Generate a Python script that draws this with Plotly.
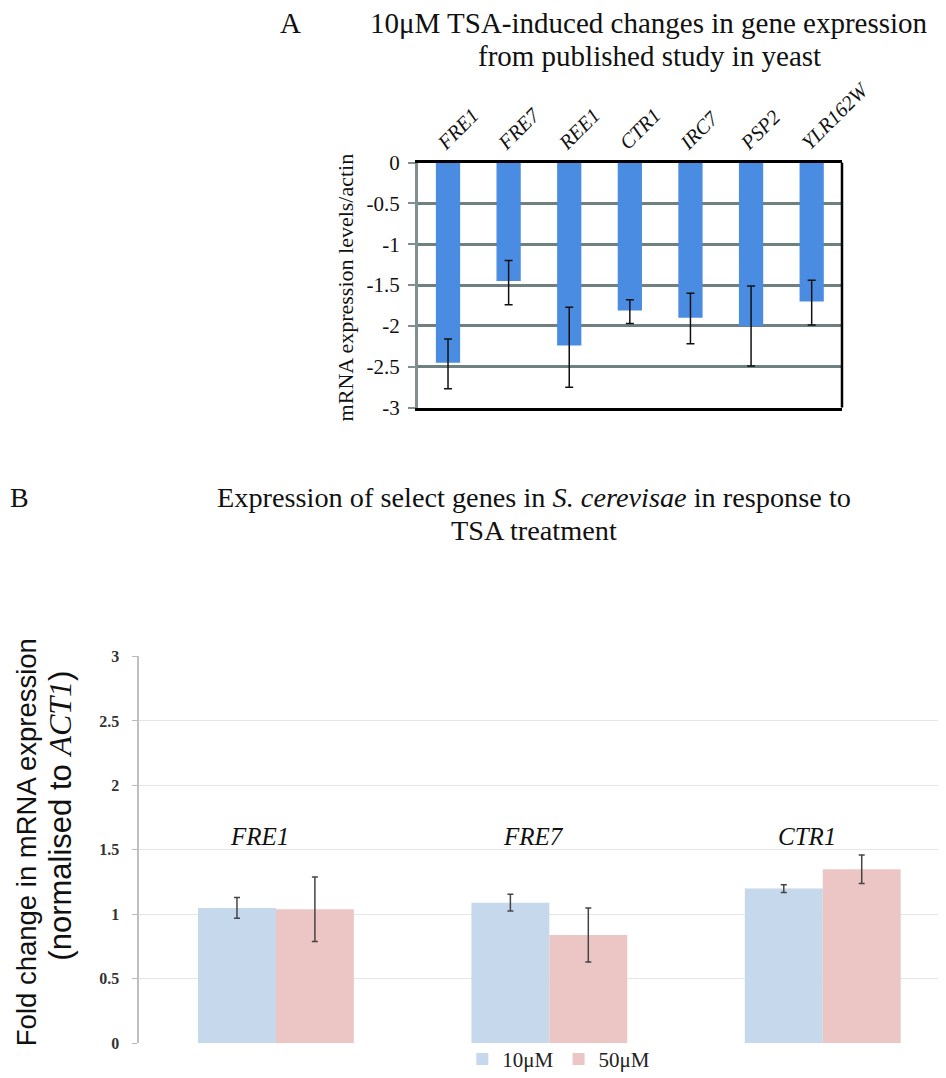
import plotly.graph_objects as go

FW, FH = 970, 1072

# ---- Panel A data ----
genes_a = ["FRE1", "FRE7", "REE1", "CTR1", "IRC7", "PSP2", "YLR162W"]
vals_a = [-2.45, -1.45, -2.24, -1.81, -1.90, -2.00, -1.70]
err_up_a = [0.29, 0.25, 0.47, 0.13, 0.30, 0.49, 0.26]
err_dn_a = [0.32, 0.29, 0.51, 0.16, 0.32, 0.49, 0.29]
yticks_a = [0, -0.5, -1, -1.5, -2, -2.5, -3]
yticklabels_a = ["0", "-0.5", "-1", "-1.5", "-2", "-2.5", "-3"]

# ---- Panel B data ----
genes_b = ["FRE1", "FRE7", "CTR1"]
vals_10 = [1.05, 1.09, 1.20]
err_10 = [0.08, 0.065, 0.03]
vals_50 = [1.04, 0.84, 1.35]
err_50 = [0.25, 0.21, 0.11]
yticks_b = [0, 0.5, 1, 1.5, 2, 2.5, 3]
yticklabels_b = ["0", "0.5", "1", "1.5", "2", "2.5", "3"]

SERIF = "Liberation Serif"
SANS = "Liberation Sans"

# map screen positions (as seen in the screenshot) to figure positions
SX, AX = 0.957, 8.4
SY, AY = 0.978, 19.3


def fx(p):
    return (p - AX) / SX


def fy(p):
    return (p - AY) / SY


def px_x(p):
    return fx(p) / FW


def px_y(p):
    return 1 - fy(p) / FH


fig = go.Figure()

fig.add_trace(go.Bar(
    x=genes_a, y=vals_a, width=0.40, marker=dict(color="#4a8ce2", line=dict(width=0)),
    error_y=dict(type="data", symmetric=False, array=err_up_a, arrayminus=err_dn_a,
                 color="#111111", thickness=1.5, width=4),
    xaxis="x", yaxis="y", showlegend=False,
))

fig.add_trace(go.Bar(
    x=genes_b, y=vals_10, name="10μM", marker=dict(color="#c5d8ec", line=dict(width=0)),
    error_y=dict(type="data", array=err_10, color="#444444", thickness=1.5, width=3),
    xaxis="x2", yaxis="y2",
))
fig.add_trace(go.Bar(
    x=genes_b, y=vals_50, name="50μM", marker=dict(color="#ecc6c5", line=dict(width=0)),
    error_y=dict(type="data", array=err_50, color="#444444", thickness=1.5, width=3),
    xaxis="x2", yaxis="y2",
))


def txt(text, x, y, size, family=SERIF, angle=0):
    return dict(text=text, x=px_x(x), y=px_y(y), xref="paper", yref="paper",
                showarrow=False, xanchor="center", yanchor="middle", textangle=angle,
                font=dict(family=family, size=size, color="#111111"))


annotations = [
    txt("A", 287, 22, 29),
    txt("10μM TSA-induced changes in gene expression", 641, 22, 29),
    txt("from published study in yeast", 642, 55, 29),
    txt("mRNA expression levels/actin", 342, 287, 22, angle=-90),
    txt("B", 20, 497, 28),
    txt("Expression of select genes in <i>S. cerevisae</i> in response to", 528, 497, 28.3),
    txt("TSA treatment", 528, 530, 28.3),
    txt("Fold change in mRNA expression", 27, 842, 27.5, family=SANS, angle=-90),
    txt("(normalised to <i><span style='font-family:Liberation Serif;font-size:32px'>ACT1</span></i>)",
        60, 815, 31, family=SANS, angle=-90),
]
for g in genes_b:
    annotations.append(dict(text="<i>" + g + "</i>", x=g, y=1.6, xref="x2", yref="y2",
                            xshift=-16, showarrow=False, xanchor="center", yanchor="middle",
                            font=dict(family=SERIF, size=25, color="#111111")))

shapes = [
    dict(type="line", xref="x domain", yref="y domain", x0=1, x1=1, y0=0, y1=1,
         line=dict(color="#000000", width=2.5)),
]

cat_w = fx(543) - fx(273)
x2_left = fx(138)
x2_range = [-0.5, -0.5 + (FW - x2_left) / cat_w]

fig.update_layout(
    width=FW, height=FH, margin=dict(l=0, r=0, t=0, b=0),
    paper_bgcolor="white", plot_bgcolor="white",
    barmode="group", bargap=0.43, bargroupgap=0,
    xaxis=dict(domain=[px_x(413), px_x(832)], anchor="y", side="top",
               tickangle=-45, showgrid=False, ticks="",
               ticklabelshift=-9, ticklabelstandoff=-2,
               tickfont=dict(family=SERIF, size=20.5, color="#111111", style="italic"),
               showline=True, mirror=True, linecolor="#000000", linewidth=2.5),
    yaxis=dict(domain=[px_y(407), px_y(162)], anchor="x", range=[-3, 0],
               tickvals=yticks_a, ticktext=yticklabels_a,
               tickfont=dict(family=SERIF, size=21, color="#111111"),
               ticks="outside", ticklen=7, tickcolor="#7f8f90", tickwidth=2,
               ticklabelstandoff=4,
               showgrid=True, gridcolor="#6f8081", gridwidth=3,
               showline=True, linecolor="#7f8f90", linewidth=2.5,
               zeroline=False),
    xaxis2=dict(domain=[x2_left / FW, 1.0], anchor="y2", showgrid=False, ticks="",
                range=x2_range, showticklabels=False, showline=False),
    yaxis2=dict(domain=[px_y(1043), px_y(656)], anchor="x2", range=[0, 3],
                tickvals=yticks_b, ticktext=yticklabels_b,
                tickfont=dict(family=SERIF, size=16, color="#333333", weight="bold"),
                ticks="outside", ticklen=5, tickcolor="#b8b8b8", ticklabelstandoff=10,
                showgrid=True, gridcolor="#e6e6e6", gridwidth=1,
                showline=True, linecolor="#bfbfbf", linewidth=1.5, zeroline=False),
    legend=dict(orientation="h", x=(fx(481) - 25) / FW, y=px_y(1059), xanchor="left",
                yanchor="middle", font=dict(family=SERIF, size=21, color="#222222"),
                itemwidth=30, bgcolor="rgba(0,0,0,0)"),
    annotations=annotations,
    shapes=shapes,
)

fig.write_html("out.html")
